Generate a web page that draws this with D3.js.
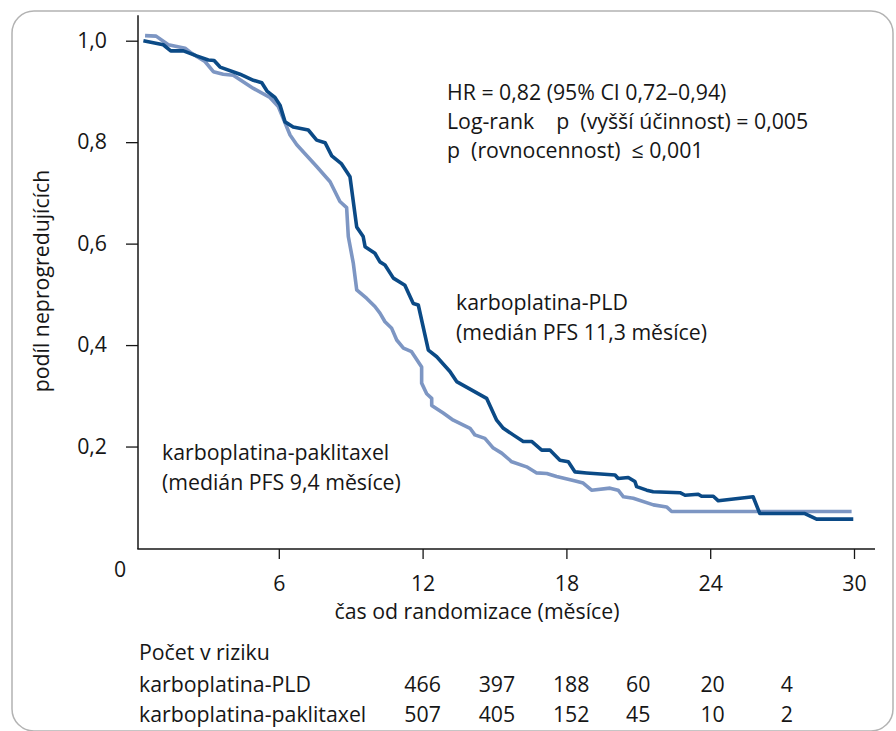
<!DOCTYPE html>
<html><head><meta charset="utf-8">
<script src="https://cdn.jsdelivr.net/npm/d3@7"></script>
<style>
body{margin:0;background:#fff}
text{font-family:"Open Sans",sans-serif;fill:#161616}
</style>
</head><body>
<svg id="c" width="896" height="731"></svg>
<script>
// ---- data ----
const pldTime = [0.35,1.18,1.49,2.02,2.57,3.06,3.30,3.55,4.38,4.94,5.29,5.52,5.84,6.05,6.26,6.60,7.23,7.58,7.93,8.21,8.62,8.97,9.25,9.52,9.60,10.01,10.22,10.43,10.78,11.26,11.61,11.82,12.24,12.59,13.14,13.42,14.67,15.09,15.37,15.78,16.20,16.55,16.97,17.31,17.73,18.08,18.36,18.84,20.03,20.16,20.58,20.86,20.93,21.35,21.62,22.74,22.95,23.50,23.64,24.13,24.34,25.79,26.07,27.95,28.44,29.97];
const pldSurv = [1.000,0.992,0.980,0.980,0.970,0.962,0.961,0.948,0.934,0.922,0.917,0.900,0.888,0.873,0.840,0.830,0.824,0.804,0.799,0.773,0.757,0.732,0.633,0.614,0.594,0.581,0.564,0.558,0.532,0.518,0.482,0.479,0.390,0.377,0.348,0.328,0.295,0.252,0.236,0.223,0.210,0.210,0.193,0.193,0.173,0.170,0.150,0.148,0.144,0.137,0.139,0.131,0.121,0.114,0.111,0.109,0.104,0.106,0.102,0.102,0.093,0.101,0.068,0.068,0.057,0.057];
const pacTime = [0.42,0.88,1.39,2.09,2.37,2.92,3.27,3.68,4.10,4.94,5.63,5.98,6.47,6.75,7.58,8.14,8.55,8.83,8.90,9.11,9.25,9.67,10.01,10.22,10.43,10.71,10.92,11.20,11.54,11.96,11.96,12.17,12.38,12.38,12.86,13.28,13.98,14.18,14.60,14.95,15.30,15.72,16.34,16.76,17.18,17.59,18.29,18.70,19.05,19.82,20.16,20.38,20.79,21.63,22.18,22.39,29.90];
const pacSurv = [1.010,1.009,0.992,0.985,0.975,0.959,0.939,0.934,0.932,0.906,0.888,0.870,0.814,0.795,0.752,0.722,0.683,0.671,0.614,0.561,0.509,0.492,0.476,0.463,0.446,0.433,0.410,0.394,0.387,0.357,0.325,0.304,0.295,0.281,0.266,0.252,0.236,0.223,0.216,0.197,0.187,0.170,0.160,0.148,0.147,0.141,0.133,0.128,0.114,0.118,0.114,0.101,0.098,0.085,0.081,0.072,0.072];

const xTicks = [6,12,18,24,30];
const yTicks = [0.2,0.4,0.6,0.8,1.0];
const yTickLabels = ["0,2","0,4","0,6","0,8","1,0"];
const riskTimes = [12,15.1,18.2,21,24.1,27.2];
const riskGroups = ["karboplatina-PLD","karboplatina-paklitaxel"];
const riskPLD = [466,397,188,60,20,4];
const riskPAC = [507,405,152,45,10,2];
const statLines = ["HR = 0,82 (95% CI 0,72–0,94)","Log-rank    p  (vyšší účinnost) = 0,005","p  (rovnocennost)  ≤ 0,001"];
const pldLabel = ["karboplatina-PLD","(medián PFS 11,3 měsíce)"];
const pacLabel = ["karboplatina-paklitaxel","(medián PFS 9,4 měsíce)"];

// ---- drawing ----
const svg = d3.select("#c");
const FS = 21.3;
const dark = "#0b4a86", light = "#7d96c3", ink = "#161616";

svg.append("rect").attr("x",12).attr("y",11).attr("width",881).attr("height",720)
  .attr("rx",22).attr("fill","none").attr("stroke","#b3b3b3").attr("stroke-width",1.5);

const x = d3.scaleLinear().domain([0,30]).range([135,854]);
const y = d3.scaleLinear().domain([0,1]).range([548,40.7]);

// y axis
const yAx = svg.append("g").attr("transform","translate(138,0)")
  .call(d3.axisLeft(y).tickValues(yTicks).tickFormat((d,i)=>yTickLabels[i]).tickSize(12).tickPadding(19));
yAx.select(".domain").remove();
yAx.selectAll("line").attr("stroke",ink).attr("stroke-width",1.3);
yAx.selectAll("text").style("font-family","Open Sans").style("font-size",FS+"px").attr("fill",ink);
svg.append("line").attr("x1",138).attr("x2",138).attr("y1",y(1.05)).attr("y2",549)
  .attr("stroke",ink).attr("stroke-width",1.5);

// x axis
const xAx = svg.append("g").attr("transform","translate(0,549)")
  .call(d3.axisBottom(x).tickValues(xTicks).tickSize(10).tickPadding(17));
xAx.select(".domain").remove();
xAx.selectAll("line").attr("stroke",ink).attr("stroke-width",1.3);
xAx.selectAll("text").style("font-family","Open Sans").style("font-size",FS+"px").attr("fill",ink);
svg.append("line").attr("x1",137.3).attr("x2",875).attr("y1",549).attr("y2",549)
  .attr("stroke",ink).attr("stroke-width",1.5);

svg.append("text").attr("x",120).attr("y",577).attr("text-anchor","middle").style("font-size",FS+"px").text("0");

// axis titles
svg.append("text").attr("transform","translate(49,281) rotate(-90)").attr("text-anchor","middle")
  .style("font-size",FS+"px").text("podíl neprogredujících");
svg.append("text").attr("x",477).attr("y",619).attr("text-anchor","middle")
  .style("font-size",FS+"px").text("čas od randomizace (měsíce)");

// curves
const line = d3.line().x(d=>x(d[0])).y(d=>y(d[1]));
const pacData = d3.zip(pacTime,pacSurv);
const pldData = d3.zip(pldTime,pldSurv);
svg.append("path").datum(pacData).attr("d",line).attr("fill","none").attr("stroke",light)
  .attr("stroke-width",3.6).attr("stroke-linejoin","round");
svg.append("path").datum(pldData).attr("d",line).attr("fill","none").attr("stroke",dark)
  .attr("stroke-width",3.6).attr("stroke-linejoin","round");

// annotations
svg.append("g").selectAll("text").data(statLines).join("text")
  .attr("x",447).attr("y",(d,i)=>99.5+i*29).style("font-size",FS+"px").style("white-space","pre")
  .attr("xml:space","preserve").text(d=>d);
svg.append("g").selectAll("text").data(pldLabel).join("text")
  .attr("x",456).attr("y",(d,i)=>309.5+i*30).style("font-size",FS+"px").text(d=>d);
svg.append("g").selectAll("text").data(pacLabel).join("text")
  .attr("x",162).attr("y",(d,i)=>460+i*29.5).style("font-size",FS+"px").text(d=>d);

// risk table
svg.append("text").attr("x",139).attr("y",660).style("font-size",FS+"px").text("Počet v riziku");
svg.append("g").selectAll("text").data(riskGroups).join("text")
  .attr("x",139).attr("y",(d,i)=>691.5+i*30).style("font-size",FS+"px").text(d=>d);
[riskPLD,riskPAC].forEach((row,ri)=>{
  svg.append("g").selectAll("text").data(row).join("text")
    .attr("x",(d,i)=>x(riskTimes[i])).attr("y",691.5+ri*30).attr("text-anchor","middle")
    .style("font-size",FS+"px").text(d=>d);
});
</script>
</body></html>
